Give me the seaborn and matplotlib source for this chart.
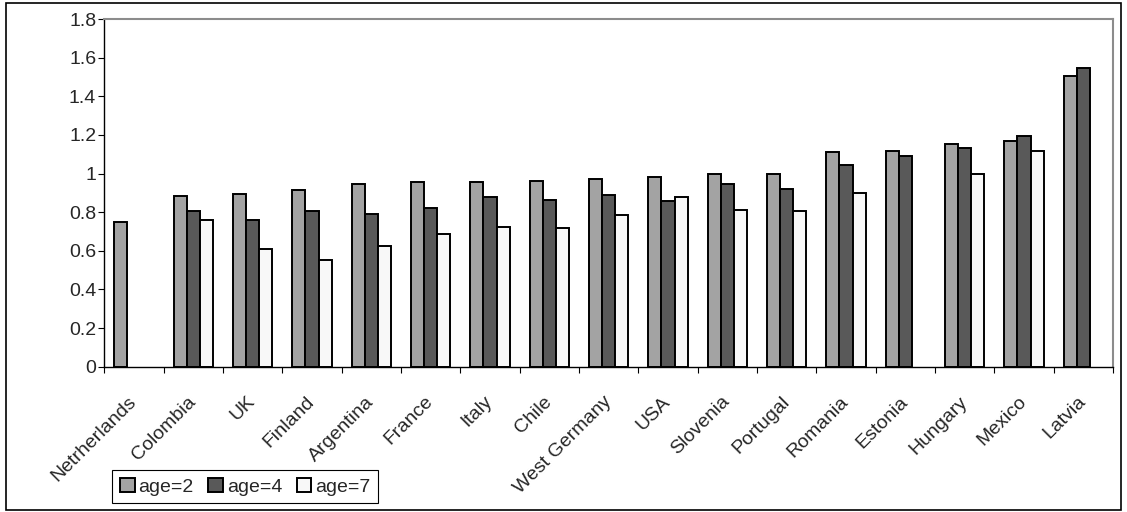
import matplotlib
matplotlib.use("Agg")
import matplotlib.pyplot as plt
import matplotlib.transforms as mtransforms
from matplotlib.patches import Rectangle
import seaborn as sns
import pandas as pd
import numpy as np

# Data
countries = ["Netrherlands", "Colombia", "UK", "Finland", "Argentina", "France",
             "Italy", "Chile", "West Germany", "USA", "Slovenia", "Portugal",
             "Romania", "Estonia", "Hungary", "Mexico", "Latvia"]
age2 = [0.75, 0.885, 0.895, 0.917, 0.946, 0.955, 0.958, 0.961, 0.972, 0.983,
        0.996, 0.995, 1.11, 1.117, 1.153, 1.167, 1.505]
age4 = [np.nan, 0.806, 0.757, 0.806, 0.79, 0.82, 0.88, 0.863, 0.887, 0.858,
        0.946, 0.921, 1.046, 1.09, 1.132, 1.193, 1.545]
age7 = [np.nan, 0.758, 0.608, 0.552, 0.626, 0.689, 0.723, 0.72, 0.784, 0.877,
        0.81, 0.806, 0.901, np.nan, 1.0, 1.117, np.nan]
series = ["age=2", "age=4", "age=7"]
colors = ["#a3a3a3", "#595959", "#f8f8f8"]
yticks = [0, 0.2, 0.4, 0.6, 0.8, 1.0, 1.2, 1.4, 1.6, 1.8]

# Long form table for seaborn
df = pd.DataFrame({"country": countries, "age=2": age2, "age=4": age4, "age=7": age7})
df = df.melt(id_vars="country", var_name="age", value_name="value").dropna()

sns.set_style("white")
plt.rcParams["font.family"] = ["Liberation Sans", "DejaVu Sans"]
fs = 14

fig = plt.figure(figsize=(11.27, 5.12), dpi=100)
ax = fig.add_axes([104.3 / 1127, 1 - 366.7 / 512, (1113 - 104.3) / 1127, (366.7 - 19) / 512])

sns.barplot(
    data=df,
    x="country",
    y="value",
    hue="age",
    order=countries,
    hue_order=series,
    palette=colors,
    width=0.667,
    gap=0,
    edgecolor="black",
    linewidth=1.4,
    saturation=1,
    errorbar=None,
    ax=ax
)

ax.set_xlim(-0.5, len(countries) - 0.5)
ax.set_ylim(0, 1.8)
ax.set_yticks(yticks)
ax.set_yticklabels(["%g" % v for v in yticks], fontsize=fs)
ax.set_xlabel("")
ax.set_ylabel("")

# category labels at centres, tick marks between categories
ax.set_xticks(range(len(countries)))
ax.set_xticklabels(countries, fontsize=fs, rotation=45, ha="right",
                   rotation_mode="anchor")
ax.set_xticks(np.arange(-0.5, len(countries)), minor=True)
ax.tick_params(axis="x", which="major", length=0, pad=19)
ax.tick_params(axis="x", which="minor", length=4.3, width=0.8, direction="out",
               color="black", bottom=True)
ax.tick_params(axis="y", length=4.3, width=0.8, direction="out", color="black",
               pad=1.5, left=True)
shift = mtransforms.ScaledTranslation(-6 / 100, 0, fig.dpi_scale_trans)
for lbl in ax.get_xticklabels():
    lbl.set_transform(lbl.get_transform() + shift)

for side in ["left", "bottom"]:
    ax.spines[side].set_color("black")
    ax.spines[side].set_linewidth(1.0)
for side in ["top", "right"]:
    ax.spines[side].set_color("#8c8c8c")
    ax.spines[side].set_linewidth(1.5)

leg = ax.legend(
    loc="lower left",
    bbox_to_anchor=(112.3 / 1127, 1 - 503.3 / 512),
    bbox_transform=fig.transFigure,
    ncol=3,
    fontsize=fs,
    frameon=True,
    fancybox=False,
    framealpha=1,
    edgecolor="black",
    handlelength=0.75,
    handleheight=0.75,
    handletextpad=0.2,
    columnspacing=0.75,
    borderpad=0.4,
    borderaxespad=0
)
leg.get_frame().set_linewidth(0.8)

# outer chart border
fig.patches.append(Rectangle((6 / 1127, 2 / 512), (1121 - 6) / 1127, (509 - 2) / 512,
                             transform=fig.transFigure, fill=False,
                             edgecolor="black", linewidth=1.2))

plt.savefig("out.png", dpi=100)
plt.close()
